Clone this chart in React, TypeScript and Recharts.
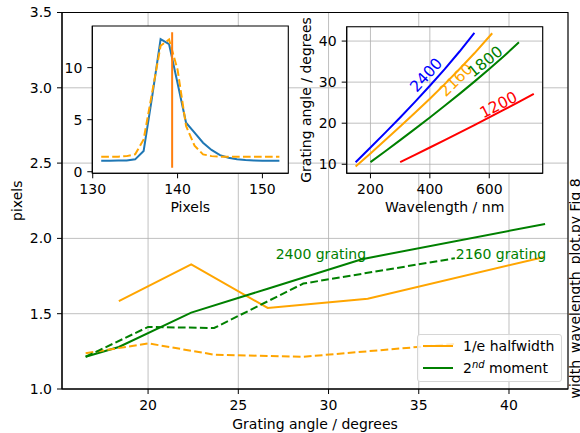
import React from 'react';
import {
  LineChart,
  Line,
  XAxis,
  YAxis,
  CartesianGrid,
  ReferenceArea,
  ReferenceDot,
  Legend,
} from 'recharts';

const FONT = "'DejaVu Sans', sans-serif";
const ORANGE = '#ffa500';
const GREEN = '#008000';
const GRID = '#b0b0b0';
const DASH = '7.7 3.3';

// ---------- main chart data ----------
const mainXTicks = [20, 25, 30, 35, 40];
const mainYTicks = [1.0, 1.5, 2.0, 2.5, 3.0, 3.5];

const angle2400Half = [18.38, 22.39, 26.63, 32.17, 41.9];
const width2400Half = [1.584, 1.828, 1.538, 1.6, 1.875];
const angle2400Mom = [16.54, 18.38, 22.39, 26.63, 31.84, 42.0];
const width2400Mom = [1.214, 1.279, 1.507, 1.666, 1.862, 2.096];
const angle2160Half = [16.54, 20.0, 23.66, 28.6, 37.0];
const width2160Half = [1.237, 1.303, 1.228, 1.214, 1.3];
const angle2160Mom = [16.54, 20.0, 23.66, 28.6, 37.0];
const width2160Mom = [1.214, 1.412, 1.405, 1.7, 1.868];

const legendLabels = ['1/e halfwidth', '2nd moment'];
const legendColors = [ORANGE, GREEN];

// ---------- inset 1 data (pixel profile) ----------
const pixelTicks = [130, 140, 150];
const countTicks = [0, 5, 10];
const pixels = [131, 132, 133, 134, 135, 136, 137, 138, 139, 140, 141, 142, 143, 144, 145, 146, 147, 148, 149, 150, 151, 152];
const profile = [1.06, 1.06, 1.07, 1.08, 1.19, 1.99, 7.2, 12.73, 12.25, 8.5, 4.71, 3.75, 2.79, 2.09, 1.6, 1.35, 1.19, 1.12, 1.08, 1.06, 1.05, 1.05];
const fitProfile = [1.44, 1.44, 1.45, 1.5, 1.67, 3.1, 7.6, 12.1, 12.7, 9.8, 4.4, 2.5, 1.67, 1.5, 1.45, 1.44, 1.44, 1.44, 1.44, 1.44, 1.44, 1.44];
const centreX = [139.36, 139.36];
const centreY = [0.38, 13.4];

// ---------- inset 2 data (grating angle vs wavelength) ----------
const wlTicks = [200, 400, 600];
const gaTicks = [10, 20, 30, 40];
const wl2400 = [150, 200, 250, 300, 350, 400, 450, 500, 550];
const ga2400 = [10.51, 14.08, 17.7, 21.4, 25.2, 29.12, 33.18, 37.46, 41.99];
const wl2160 = [150, 200, 250, 300, 350, 400, 450, 500, 550, 610];
const ga2160 = [9.45, 12.65, 15.89, 19.17, 22.53, 25.97, 29.52, 33.19, 37.02, 41.9];
const wl1800 = [200, 250, 300, 350, 400, 450, 500, 550, 600, 650, 700];
const ga1800 = [10.51, 13.18, 15.89, 18.62, 21.4, 24.24, 27.14, 30.12, 33.19, 36.37, 39.69];
const wl1200 = [300, 350, 400, 450, 500, 550, 600, 650, 700, 750];
const ga1200 = [10.51, 12.29, 14.08, 15.89, 17.7, 19.54, 21.4, 23.29, 25.2, 27.14];

const gratingNames = ['2400', '2160', '1800', '1200'];
const gratingColors = ['#0000ff', ORANGE, GREEN, '#ff0000'];
const gratingLabelWl = [388, 488.7, 587, 631.6];
const gratingLabelGa = [31.7, 30.5, 34.96, 24.4];
const gratingLabelRot = [-47.5, -44.7, -39, -27];

const zip = (xs: number[], ys: number[]) => xs.map((x, i) => ({ x, y: ys[i] }));

const tickStyle = { fontSize: 14, fill: '#000', fontFamily: FONT };

const centreOf = (vb: any) => {
  if (!vb) return { cx: 0, cy: 0 };
  if (typeof vb.cx === 'number') return { cx: vb.cx, cy: vb.cy };
  return { cx: vb.x + (vb.width || 0) / 2, cy: vb.y + (vb.height || 0) / 2 };
};

const xTitle = (text: string, baseline: number) => (props: any) => {
  const vb = props.viewBox || {};
  return (
    <text x={vb.x + vb.width / 2} y={vb.y + baseline} textAnchor="middle" fontSize={14} fontFamily={FONT} fill="#000">
      {text}
    </text>
  );
};

const yTitle = (text: string, baselineX: number) => (props: any) => {
  const vb = props.viewBox || {};
  const x = vb.x + baselineX;
  const y = vb.y + vb.height / 2;
  return (
    <text x={x} y={y} textAnchor="middle" fontSize={14} fontFamily={FONT} fill="#000" transform={`rotate(-90, ${x}, ${y})`}>
      {text}
    </text>
  );
};

const noteLabel = (props: any) => {
  const vb = props.viewBox || {};
  const x = vb.x + 11.5;
  const y = vb.y + vb.height + 9.5;
  return (
    <text x={x} y={y} textAnchor="start" fontSize={14} fontFamily={FONT} fill="#000" transform={`rotate(-90, ${x}, ${y})`}>
      width_wavelength_plot.py Fig 8
    </text>
  );
};

const plainText = (text: string, color: string) => (props: any) => {
  const { cx, cy } = centreOf(props.viewBox);
  return (
    <text x={cx} y={cy} fill={color} fontSize={14} fontFamily={FONT}>
      {text}
    </text>
  );
};

const rotatedText = (text: string, color: string, angle: number) => (props: any) => {
  const { cx, cy } = centreOf(props.viewBox);
  return (
    <text
      x={cx}
      y={cy}
      fill={color}
      fontSize={15.5}
      fontFamily={FONT}
      textAnchor="middle"
      dominantBaseline="central"
      transform={`rotate(${angle}, ${cx}, ${cy})`}
    >
      {text}
    </text>
  );
};

function LegendBox() {
  return (
    <div
      style={{
        width: 145,
        height: 48,
        boxSizing: 'border-box',
        border: '1px solid #d6d6d6',
        borderRadius: 3,
        background: 'rgba(255,255,255,0.8)',
        position: 'relative',
        fontFamily: FONT,
        fontSize: 14,
        color: '#000',
      }}
    >
      {legendLabels.map((label, i) => (
        <div key={label} style={{ position: 'absolute', left: 0, top: (i === 0 ? 11 : 32.7) - 9, height: 18, width: 143 }}>
          <div style={{ position: 'absolute', left: 5, top: 8, width: 30, height: 2, background: legendColors[i] }} />
          <div style={{ position: 'absolute', left: 45, top: 0, lineHeight: '18px', whiteSpace: 'nowrap' }}>
            {label.startsWith('2nd') ? (
              <>
                2<span style={{ fontSize: 10, fontStyle: 'italic', position: 'relative', top: -5 }}>nd</span> moment
              </>
            ) : (
              label
            )}
          </div>
        </div>
      ))}
    </div>
  );
}

function MainChart() {
  return (
    <LineChart width={580} height={433} margin={{ top: 12.5, right: 0, bottom: 0, left: 0 }}>
      <CartesianGrid stroke={GRID} strokeWidth={0.8} />
      <XAxis
        type="number"
        dataKey="x"
        domain={[15.23, 43.27]}
        ticks={mainXTicks}
        allowDataOverflow
        height={44}
        tick={tickStyle}
        tickSize={5}
        tickMargin={6}
        stroke="#000"
        label={xTitle('Grating angle / degrees', 40)}
      />
      <YAxis
        type="number"
        dataKey="y"
        domain={[1, 3.5]}
        ticks={mainYTicks}
        allowDataOverflow
        width={62}
        tick={tickStyle}
        tickSize={5}
        tickMargin={5}
        stroke="#000"
        tickFormatter={(v: number) => v.toFixed(1)}
        label={yTitle('pixels', 21.5)}
      />
      <YAxis yAxisId="note" orientation="right" width={12} tick={false} axisLine={false} tickLine={false} label={noteLabel} />
      <ReferenceArea x1={15.23} x2={43.27} y1={1} y2={3.5} fill="none" stroke="#000" strokeWidth={1.1} ifOverflow="visible" />
      <Line data={zip(angle2400Half, width2400Half)} dataKey="y" stroke={ORANGE} strokeWidth={2} dot={false} isAnimationActive={false} />
      <Line data={zip(angle2400Mom, width2400Mom)} dataKey="y" stroke={GREEN} strokeWidth={2} dot={false} isAnimationActive={false} />
      <Line data={zip(angle2160Half, width2160Half)} dataKey="y" stroke={ORANGE} strokeWidth={2} strokeDasharray={DASH} dot={false} isAnimationActive={false} />
      <Line data={zip(angle2160Mom, width2160Mom)} dataKey="y" stroke={GREEN} strokeWidth={2} strokeDasharray={DASH} dot={false} isAnimationActive={false} />
      <ReferenceDot x={27.07} y={1.86} r={0} fill="none" stroke="none" label={plainText('2400 grating', GREEN)} />
      <ReferenceDot x={37.05} y={1.86} r={0} fill="none" stroke="none" label={plainText('2160 grating', GREEN)} />
      <Legend
        layout="vertical"
        align="center"
        verticalAlign="middle"
        wrapperStyle={{ left: 417, top: 334, width: 145, height: 48 }}
        content={() => <LegendBox />}
      />
    </LineChart>
  );
}

function PixelInset() {
  return (
    <div style={{ position: 'absolute', left: 40, top: 10 }}>
      <LineChart width={260} height={215} margin={{ top: 16, right: 11.7, bottom: 0, left: 0 }}>
        <CartesianGrid horizontal={false} vertical={false} fill="#fff" fillOpacity={1} />
        <XAxis
          type="number"
          dataKey="x"
          domain={[129.95, 153.05]}
          ticks={pixelTicks}
          allowDataOverflow
          height={51.7}
          tick={tickStyle}
          tickSize={5}
          tickMargin={6}
          stroke="#000"
          label={xTitle('Pixels', 38.7)}
        />
        <YAxis
          type="number"
          dataKey="y"
          domain={[-0.15, 14.0]}
          ticks={countTicks}
          allowDataOverflow
          width={52.3}
          tick={tickStyle}
          tickSize={5}
          tickMargin={5}
          stroke="#000"
        />
        <ReferenceArea x1={129.95} x2={153.05} y1={-0.15} y2={14.0} fill="none" stroke="#000" strokeWidth={1.1} ifOverflow="visible" />
        <Line data={zip(pixels, profile)} dataKey="y" stroke="#1f77b4" strokeWidth={2} dot={false} isAnimationActive={false} />
        <Line data={zip(pixels, fitProfile)} dataKey="y" stroke={ORANGE} strokeWidth={2} strokeDasharray={DASH} dot={false} isAnimationActive={false} />
        <Line data={zip(centreX, centreY)} dataKey="y" stroke="#ff7f0e" strokeWidth={2} dot={false} isAnimationActive={false} />
      </LineChart>
    </div>
  );
}

function GratingInset() {
  const series = [zip(wl2400, ga2400), zip(wl2160, ga2160), zip(wl1800, ga1800), zip(wl1200, ga1200)];
  return (
    <div style={{ position: 'absolute', left: 290, top: 10 }}>
      <LineChart width={290} height={215} margin={{ top: 16.7, right: 37.3, bottom: 0, left: 0 }}>
        <CartesianGrid stroke={GRID} strokeWidth={0.8} fill="#fff" fillOpacity={1} />
        <XAxis
          type="number"
          dataKey="x"
          domain={[120, 780]}
          ticks={wlTicks}
          allowDataOverflow
          height={51.7}
          tick={tickStyle}
          tickSize={5}
          tickMargin={6}
          stroke="#000"
          label={xTitle('Wavelength / nm', 38.7)}
        />
        <YAxis
          type="number"
          dataKey="y"
          domain={[7.8, 43.5]}
          ticks={gaTicks}
          allowDataOverflow
          width={56.7}
          tick={tickStyle}
          tickSize={5}
          tickMargin={5}
          stroke="#000"
          label={yTitle('Grating angle / degrees', 20.5)}
        />
        <ReferenceArea x1={120} x2={780} y1={7.8} y2={43.5} fill="none" stroke="#000" strokeWidth={1.1} ifOverflow="visible" />
        {series.map((d, i) => (
          <Line key={gratingNames[i]} data={d} dataKey="y" stroke={gratingColors[i]} strokeWidth={2} dot={false} isAnimationActive={false} />
        ))}
        {gratingNames.map((n, i) => (
          <ReferenceDot
            key={'lab' + n}
            x={gratingLabelWl[i]}
            y={gratingLabelGa[i]}
            r={0}
            fill="none"
            stroke="none"
            label={rotatedText(n, gratingColors[i], gratingLabelRot[i])}
          />
        ))}
      </LineChart>
    </div>
  );
}

export default function App() {
  return (
    <div style={{ position: 'absolute', left: 0, top: 0, width: 580, height: 433, background: '#fff', fontFamily: FONT, overflow: 'hidden' }}>
      <div style={{ position: 'absolute', left: 0, top: 0 }}>
        <MainChart />
      </div>
      <PixelInset />
      <GratingInset />
    </div>
  );
}
